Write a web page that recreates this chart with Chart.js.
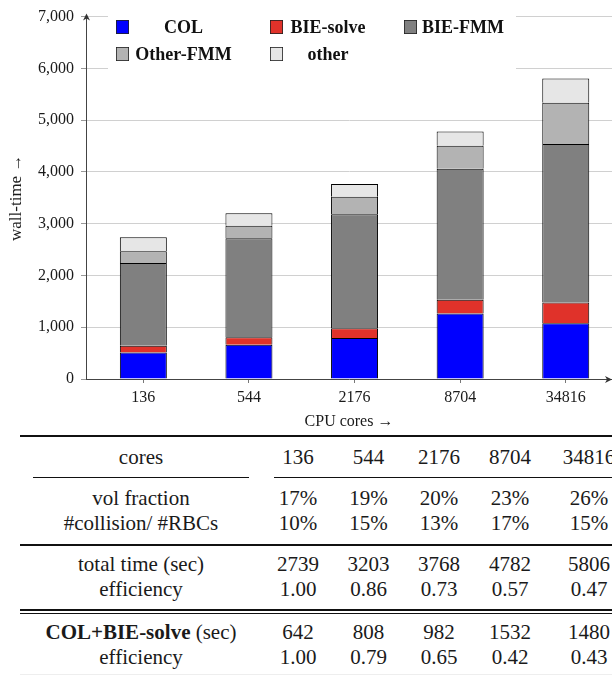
<!DOCTYPE html>
<html>
<head>
<meta charset="utf-8">
<script src="https://cdn.jsdelivr.net/npm/chart.js@4.4.1/dist/chart.umd.min.js"></script>
<style>
    body { margin: 0; background: #fff; overflow: hidden; width: 612px; height: 677px; position: relative; }
    #wrap { position: absolute; left: 0; top: 0; }
    .cell { position: absolute; width: 300px; text-align: center; white-space: nowrap;
            font-family: 'Liberation Serif', 'DejaVu Serif', serif; font-size: 21px; color: #1a1a1a; }
    .rule { position: absolute; background: #111; }
</style>
</head>
<body>
<div id="wrap"><canvas id="barChart" width="612" height="435"></canvas></div>
<div id="table"></div>
<script>
// data
const cores = ['136', '544', '2176', '8704', '34816'];
const colTime = [510, 663, 790, 1265, 1075];
const bieSolve = [132, 145, 192, 267, 405];
const bieFmm = [1601, 1913, 2198, 2528, 3058];
const otherFmm = [224, 237, 339, 447, 798];
const otherTime = [272, 245, 249, 275, 470];
const yTicks = [0, 1000, 2000, 3000, 4000, 5000, 6000, 7000];

const volFraction = ['17%', '19%', '20%', '23%', '26%'];
const collisionRatio = ['10%', '15%', '13%', '17%', '15%'];
const totalTime = ['2739', '3203', '3768', '4782', '5806'];
const totalEff = ['1.00', '0.86', '0.73', '0.57', '0.47'];
const colBieTime = ['642', '808', '982', '1532', '1480'];
const colBieEff = ['1.00', '0.79', '0.65', '0.42', '0.43'];

const serif = "'Liberation Serif', 'DejaVu Serif', serif";

const series = [
    { label: 'COL', values: colTime, color: '#0000ff' },
    { label: 'BIE-solve', values: bieSolve, color: '#e0322a' },
    { label: 'BIE-FMM', values: bieFmm, color: '#808080' },
    { label: 'Other-FMM', values: otherFmm, color: '#b3b3b3' },
    { label: 'other', values: otherTime, color: '#e6e6e6' }
];

// legend drawn inside the plot, 3 columns x 2 rows
const legendBox = { x: 108, y: 15, w: 408, h: 54 };
const legendSquares = [116, 270, 404];
const legendTextCenters = [183.5, 328, 463];
const legendRows = [27, 54];

const insideLegend = {
    id: 'insideLegend',
    afterDraw(chart) {
        const c = chart.ctx;
        c.save();
        c.fillStyle = '#fff';
        c.fillRect(legendBox.x, legendBox.y, legendBox.w, legendBox.h);
        c.font = 'bold 18px ' + serif;
        c.textAlign = 'center';
        c.textBaseline = 'middle';
        chart.data.datasets.forEach((ds, i) => {
            const col = i % 3;
            const row = Math.floor(i / 3);
            const cy = legendRows[row];
            c.fillStyle = ds.backgroundColor;
            c.fillRect(legendSquares[col], cy - 7, 13, 14);
            c.strokeStyle = '#222';
            c.lineWidth = 0.8;
            c.strokeRect(legendSquares[col] + 0.4, cy - 6.6, 12.2, 13.2);
            c.fillStyle = '#111';
            c.fillText(ds.label, legendTextCenters[col], cy + 1);
        });
        c.restore();
    }
};

// arrow heads on the axes
const axisArrows = {
    id: 'axisArrows',
    afterDraw(chart) {
        const a = chart.chartArea;
        const c = chart.ctx;
        c.save();
        c.fillStyle = '#333';
        c.beginPath();
        c.moveTo(a.left + 0.5, a.top - 3);
        c.lineTo(a.left - 3, a.top + 4);
        c.lineTo(a.left + 0.5, a.top + 2);
        c.lineTo(a.left + 4, a.top + 4);
        c.closePath();
        c.fill();
        c.beginPath();
        c.moveTo(a.right, a.bottom + 0.5);
        c.lineTo(a.right - 7, a.bottom - 3);
        c.lineTo(a.right - 5, a.bottom + 0.5);
        c.lineTo(a.right - 7, a.bottom + 4);
        c.closePath();
        c.fill();
        c.restore();
    }
};

const ctx = document.getElementById('barChart').getContext('2d');
new Chart(ctx, {
    type: 'bar',
    data: {
        datasets: series.map(s => ({
            label: s.label,
            data: s.values.map((v, i) => ({ x: i, y: v })),
            backgroundColor: s.color,
            borderColor: '#000',
            borderWidth: 1,
            barPercentage: 0.445,
            categoryPercentage: 1
        }))
    },
    options: {
        responsive: false,
        animation: false,
        layout: { padding: { top: 13, right: 0, bottom: 0, left: 0 } },
        plugins: {
            legend: { display: false },
            tooltip: { enabled: false }
        },
        scales: {
            x: {
                type: 'linear',
                stacked: true,
                offset: false,
                min: -0.543,
                max: 4.438,
                afterBuildTicks: s => { s.ticks = cores.map((c, i) => ({ value: i })); },
                afterFit: s => { s.height = 56; },
                ticks: {
                    autoSkip: false,
                    maxRotation: 0,
                    padding: 5,
                    color: '#1a1a1a',
                    font: { family: serif, size: 16 },
                    callback: v => cores[v]
                },
                grid: { display: true, offset: false, drawOnChartArea: false, tickLength: 4, tickColor: '#777' },
                border: { color: '#444', width: 1 },
                title: {
                    display: true,
                    text: 'CPU cores →',
                    color: '#1a1a1a',
                    font: { family: serif, size: 16 },
                    padding: { top: 0, bottom: 4 }
                }
            },
            y: {
                stacked: true,
                min: 0,
                max: 7000,
                afterBuildTicks: s => { s.ticks = yTicks.map(v => ({ value: v })); },
                afterFit: s => { s.width = 86; },
                ticks: {
                    padding: 7,
                    color: '#1a1a1a',
                    font: { family: serif, size: 16 },
                    callback: v => v.toLocaleString('en-US')
                },
                grid: { color: '#d0d0d0', tickColor: '#999', tickLength: 5 },
                border: { color: '#444', width: 1 },
                title: {
                    display: true,
                    text: 'wall-time →',
                    color: '#1a1a1a',
                    font: { family: serif, size: 17 },
                    padding: { top: 6, bottom: 0 }
                }
            }
        }
    },
    plugins: [insideLegend, axisArrows]
});

// table below the chart
const labelX = 141;
const colX = [298, 368.5, 439, 510, 589];
const rowH = 26;
const tableRows = [
    { label: 'cores', cells: cores, y: 457 },
    { label: 'vol fraction', cells: volFraction, y: 498 },
    { label: '#collision/ #RBCs', cells: collisionRatio, y: 523 },
    { label: 'total time (sec)', cells: totalTime, y: 564 },
    { label: 'efficiency', cells: totalEff, y: 589 },
    { label: '<b>COL+BIE-solve</b> (sec)', cells: colBieTime, y: 632 },
    { label: 'efficiency', cells: colBieEff, y: 657 }
];
const rules = [
    { x: 20, y: 435, w: 600, h: 2 },
    { x: 33, y: 477, w: 216, h: 1 },
    { x: 274, y: 477, w: 346, h: 1 },
    { x: 20, y: 544, w: 600, h: 2 },
    { x: 20, y: 609, w: 600, h: 2 },
    { x: 20, y: 613, w: 600, h: 1 }
];

const table = document.getElementById('table');
function addCell(html, cx, cy) {
    const d = document.createElement('div');
    d.className = 'cell';
    d.innerHTML = html;
    d.style.left = (cx - 150) + 'px';
    d.style.top = (cy - rowH / 2) + 'px';
    d.style.lineHeight = rowH + 'px';
    table.appendChild(d);
}
tableRows.forEach(r => {
    addCell(r.label, labelX, r.y);
    r.cells.forEach((v, i) => addCell(v, colX[i], r.y));
});
rules.forEach(r => {
    const d = document.createElement('div');
    d.className = 'rule';
    d.style.left = r.x + 'px';
    d.style.top = r.y + 'px';
    d.style.width = r.w + 'px';
    d.style.height = r.h + 'px';
    table.appendChild(d);
});
const faint = document.createElement('div');
faint.className = 'rule';
faint.style.cssText = 'left:20px;top:674px;width:600px;height:1px;background:#eee';
table.appendChild(faint);
</script>
</body>
</html>
